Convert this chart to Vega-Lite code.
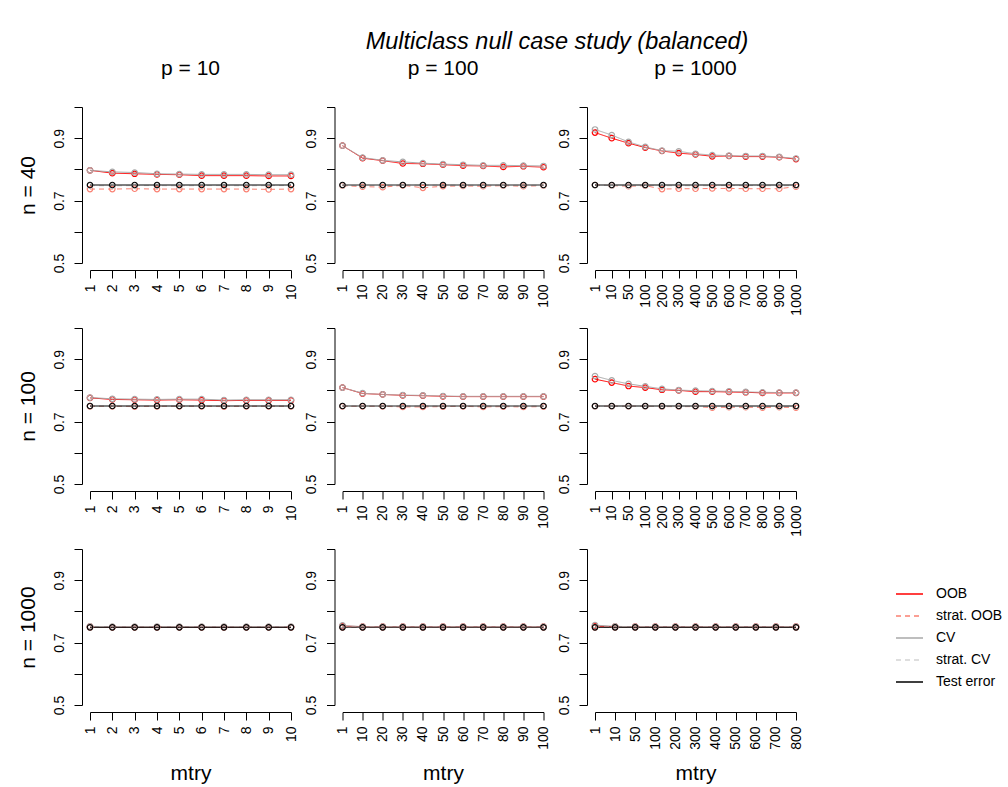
{
"$schema": "https://vega.github.io/schema/vega-lite/v6.json",
"padding": {"left": 17, "top": 30, "right": 5, "bottom": 5},
"title": {"text": "Multiclass null case study (balanced)", "fontSize": 23.5, "fontStyle": "italic", "fontWeight": "normal", "anchor": "middle", "frame": "group", "dx": 467, "offset": 4},
"data": {"values": [
{"n":40,"p":10,"m":1,"s":"OOB","v":0.797},{"n":40,"p":10,"m":2,"s":"OOB","v":0.788},{"n":40,"p":10,"m":3,"s":"OOB","v":0.786},{"n":40,"p":10,"m":4,"s":"OOB","v":0.784},{"n":40,"p":10,"m":5,"s":"OOB","v":0.783},{"n":40,"p":10,"m":6,"s":"OOB","v":0.780},{"n":40,"p":10,"m":7,"s":"OOB","v":0.780},{"n":40,"p":10,"m":8,"s":"OOB","v":0.780},{"n":40,"p":10,"m":9,"s":"OOB","v":0.779},{"n":40,"p":10,"m":10,"s":"OOB","v":0.779},
{"n":40,"p":10,"m":1,"s":"CV","v":0.797},{"n":40,"p":10,"m":2,"s":"CV","v":0.792},{"n":40,"p":10,"m":3,"s":"CV","v":0.790},{"n":40,"p":10,"m":4,"s":"CV","v":0.786},{"n":40,"p":10,"m":5,"s":"CV","v":0.785},{"n":40,"p":10,"m":6,"s":"CV","v":0.784},{"n":40,"p":10,"m":7,"s":"CV","v":0.784},{"n":40,"p":10,"m":8,"s":"CV","v":0.784},{"n":40,"p":10,"m":9,"s":"CV","v":0.783},{"n":40,"p":10,"m":10,"s":"CV","v":0.783},
{"n":40,"p":10,"m":1,"s":"strat. OOB","v":0.737},{"n":40,"p":10,"m":2,"s":"strat. OOB","v":0.737},{"n":40,"p":10,"m":3,"s":"strat. OOB","v":0.738},{"n":40,"p":10,"m":4,"s":"strat. OOB","v":0.737},{"n":40,"p":10,"m":5,"s":"strat. OOB","v":0.737},{"n":40,"p":10,"m":6,"s":"strat. OOB","v":0.737},{"n":40,"p":10,"m":7,"s":"strat. OOB","v":0.737},{"n":40,"p":10,"m":8,"s":"strat. OOB","v":0.737},{"n":40,"p":10,"m":9,"s":"strat. OOB","v":0.736},{"n":40,"p":10,"m":10,"s":"strat. OOB","v":0.737},
{"n":40,"p":10,"m":1,"s":"strat. CV","v":0.748},{"n":40,"p":10,"m":2,"s":"strat. CV","v":0.747},{"n":40,"p":10,"m":3,"s":"strat. CV","v":0.748},{"n":40,"p":10,"m":4,"s":"strat. CV","v":0.748},{"n":40,"p":10,"m":5,"s":"strat. CV","v":0.747},{"n":40,"p":10,"m":6,"s":"strat. CV","v":0.748},{"n":40,"p":10,"m":7,"s":"strat. CV","v":0.748},{"n":40,"p":10,"m":8,"s":"strat. CV","v":0.747},{"n":40,"p":10,"m":9,"s":"strat. CV","v":0.748},{"n":40,"p":10,"m":10,"s":"strat. CV","v":0.748},
{"n":40,"p":10,"m":1,"s":"Test error","v":0.750},{"n":40,"p":10,"m":2,"s":"Test error","v":0.750},{"n":40,"p":10,"m":3,"s":"Test error","v":0.750},{"n":40,"p":10,"m":4,"s":"Test error","v":0.750},{"n":40,"p":10,"m":5,"s":"Test error","v":0.750},{"n":40,"p":10,"m":6,"s":"Test error","v":0.750},{"n":40,"p":10,"m":7,"s":"Test error","v":0.750},{"n":40,"p":10,"m":8,"s":"Test error","v":0.750},{"n":40,"p":10,"m":9,"s":"Test error","v":0.750},{"n":40,"p":10,"m":10,"s":"Test error","v":0.750},

{"n":40,"p":100,"m":1,"s":"OOB","v":0.876},{"n":40,"p":100,"m":10,"s":"OOB","v":0.836},{"n":40,"p":100,"m":20,"s":"OOB","v":0.828},{"n":40,"p":100,"m":30,"s":"OOB","v":0.819},{"n":40,"p":100,"m":40,"s":"OOB","v":0.818},{"n":40,"p":100,"m":50,"s":"OOB","v":0.815},{"n":40,"p":100,"m":60,"s":"OOB","v":0.812},{"n":40,"p":100,"m":70,"s":"OOB","v":0.811},{"n":40,"p":100,"m":80,"s":"OOB","v":0.808},{"n":40,"p":100,"m":90,"s":"OOB","v":0.810},{"n":40,"p":100,"m":100,"s":"OOB","v":0.807},
{"n":40,"p":100,"m":1,"s":"CV","v":0.876},{"n":40,"p":100,"m":10,"s":"CV","v":0.838},{"n":40,"p":100,"m":20,"s":"CV","v":0.829},{"n":40,"p":100,"m":30,"s":"CV","v":0.824},{"n":40,"p":100,"m":40,"s":"CV","v":0.820},{"n":40,"p":100,"m":50,"s":"CV","v":0.817},{"n":40,"p":100,"m":60,"s":"CV","v":0.815},{"n":40,"p":100,"m":70,"s":"CV","v":0.813},{"n":40,"p":100,"m":80,"s":"CV","v":0.813},{"n":40,"p":100,"m":90,"s":"CV","v":0.812},{"n":40,"p":100,"m":100,"s":"CV","v":0.811},
{"n":40,"p":100,"m":1,"s":"strat. OOB","v":0.748},{"n":40,"p":100,"m":10,"s":"strat. OOB","v":0.745},{"n":40,"p":100,"m":20,"s":"strat. OOB","v":0.743},{"n":40,"p":100,"m":30,"s":"strat. OOB","v":0.749},{"n":40,"p":100,"m":40,"s":"strat. OOB","v":0.741},{"n":40,"p":100,"m":50,"s":"strat. OOB","v":0.746},{"n":40,"p":100,"m":60,"s":"strat. OOB","v":0.747},{"n":40,"p":100,"m":70,"s":"strat. OOB","v":0.746},{"n":40,"p":100,"m":80,"s":"strat. OOB","v":0.748},{"n":40,"p":100,"m":90,"s":"strat. OOB","v":0.746},{"n":40,"p":100,"m":100,"s":"strat. OOB","v":0.748},
{"n":40,"p":100,"m":1,"s":"strat. CV","v":0.749},{"n":40,"p":100,"m":10,"s":"strat. CV","v":0.748},{"n":40,"p":100,"m":20,"s":"strat. CV","v":0.748},{"n":40,"p":100,"m":30,"s":"strat. CV","v":0.750},{"n":40,"p":100,"m":40,"s":"strat. CV","v":0.749},{"n":40,"p":100,"m":50,"s":"strat. CV","v":0.750},{"n":40,"p":100,"m":60,"s":"strat. CV","v":0.749},{"n":40,"p":100,"m":70,"s":"strat. CV","v":0.749},{"n":40,"p":100,"m":80,"s":"strat. CV","v":0.749},{"n":40,"p":100,"m":90,"s":"strat. CV","v":0.749},{"n":40,"p":100,"m":100,"s":"strat. CV","v":0.749},
{"n":40,"p":100,"m":1,"s":"Test error","v":0.750},{"n":40,"p":100,"m":10,"s":"Test error","v":0.750},{"n":40,"p":100,"m":20,"s":"Test error","v":0.750},{"n":40,"p":100,"m":30,"s":"Test error","v":0.750},{"n":40,"p":100,"m":40,"s":"Test error","v":0.750},{"n":40,"p":100,"m":50,"s":"Test error","v":0.750},{"n":40,"p":100,"m":60,"s":"Test error","v":0.750},{"n":40,"p":100,"m":70,"s":"Test error","v":0.750},{"n":40,"p":100,"m":80,"s":"Test error","v":0.750},{"n":40,"p":100,"m":90,"s":"Test error","v":0.750},{"n":40,"p":100,"m":100,"s":"Test error","v":0.750},

{"n":40,"p":1000,"m":1,"s":"OOB","v":0.918},{"n":40,"p":1000,"m":10,"s":"OOB","v":0.900},{"n":40,"p":1000,"m":50,"s":"OOB","v":0.884},{"n":40,"p":1000,"m":100,"s":"OOB","v":0.870},{"n":40,"p":1000,"m":200,"s":"OOB","v":0.859},{"n":40,"p":1000,"m":300,"s":"OOB","v":0.852},{"n":40,"p":1000,"m":400,"s":"OOB","v":0.848},{"n":40,"p":1000,"m":500,"s":"OOB","v":0.842},{"n":40,"p":1000,"m":600,"s":"OOB","v":0.843},{"n":40,"p":1000,"m":700,"s":"OOB","v":0.841},{"n":40,"p":1000,"m":800,"s":"OOB","v":0.841},{"n":40,"p":1000,"m":900,"s":"OOB","v":0.839},{"n":40,"p":1000,"m":1000,"s":"OOB","v":0.833},
{"n":40,"p":1000,"m":1,"s":"CV","v":0.928},{"n":40,"p":1000,"m":10,"s":"CV","v":0.910},{"n":40,"p":1000,"m":50,"s":"CV","v":0.888},{"n":40,"p":1000,"m":100,"s":"CV","v":0.872},{"n":40,"p":1000,"m":200,"s":"CV","v":0.860},{"n":40,"p":1000,"m":300,"s":"CV","v":0.858},{"n":40,"p":1000,"m":400,"s":"CV","v":0.850},{"n":40,"p":1000,"m":500,"s":"CV","v":0.846},{"n":40,"p":1000,"m":600,"s":"CV","v":0.844},{"n":40,"p":1000,"m":700,"s":"CV","v":0.843},{"n":40,"p":1000,"m":800,"s":"CV","v":0.843},{"n":40,"p":1000,"m":900,"s":"CV","v":0.840},{"n":40,"p":1000,"m":1000,"s":"CV","v":0.835},
{"n":40,"p":1000,"m":1,"s":"strat. OOB","v":0.750},{"n":40,"p":1000,"m":10,"s":"strat. OOB","v":0.748},{"n":40,"p":1000,"m":50,"s":"strat. OOB","v":0.746},{"n":40,"p":1000,"m":100,"s":"strat. OOB","v":0.748},{"n":40,"p":1000,"m":200,"s":"strat. OOB","v":0.737},{"n":40,"p":1000,"m":300,"s":"strat. OOB","v":0.738},{"n":40,"p":1000,"m":400,"s":"strat. OOB","v":0.738},{"n":40,"p":1000,"m":500,"s":"strat. OOB","v":0.739},{"n":40,"p":1000,"m":600,"s":"strat. OOB","v":0.739},{"n":40,"p":1000,"m":700,"s":"strat. OOB","v":0.738},{"n":40,"p":1000,"m":800,"s":"strat. OOB","v":0.738},{"n":40,"p":1000,"m":900,"s":"strat. OOB","v":0.738},{"n":40,"p":1000,"m":1000,"s":"strat. OOB","v":0.745},
{"n":40,"p":1000,"m":1,"s":"strat. CV","v":0.749},{"n":40,"p":1000,"m":10,"s":"strat. CV","v":0.748},{"n":40,"p":1000,"m":50,"s":"strat. CV","v":0.748},{"n":40,"p":1000,"m":100,"s":"strat. CV","v":0.749},{"n":40,"p":1000,"m":200,"s":"strat. CV","v":0.747},{"n":40,"p":1000,"m":300,"s":"strat. CV","v":0.748},{"n":40,"p":1000,"m":400,"s":"strat. CV","v":0.747},{"n":40,"p":1000,"m":500,"s":"strat. CV","v":0.748},{"n":40,"p":1000,"m":600,"s":"strat. CV","v":0.748},{"n":40,"p":1000,"m":700,"s":"strat. CV","v":0.748},{"n":40,"p":1000,"m":800,"s":"strat. CV","v":0.748},{"n":40,"p":1000,"m":900,"s":"strat. CV","v":0.747},{"n":40,"p":1000,"m":1000,"s":"strat. CV","v":0.748},
{"n":40,"p":1000,"m":1,"s":"Test error","v":0.750},{"n":40,"p":1000,"m":10,"s":"Test error","v":0.750},{"n":40,"p":1000,"m":50,"s":"Test error","v":0.750},{"n":40,"p":1000,"m":100,"s":"Test error","v":0.750},{"n":40,"p":1000,"m":200,"s":"Test error","v":0.750},{"n":40,"p":1000,"m":300,"s":"Test error","v":0.750},{"n":40,"p":1000,"m":400,"s":"Test error","v":0.750},{"n":40,"p":1000,"m":500,"s":"Test error","v":0.750},{"n":40,"p":1000,"m":600,"s":"Test error","v":0.750},{"n":40,"p":1000,"m":700,"s":"Test error","v":0.750},{"n":40,"p":1000,"m":800,"s":"Test error","v":0.750},{"n":40,"p":1000,"m":900,"s":"Test error","v":0.750},{"n":40,"p":1000,"m":1000,"s":"Test error","v":0.750},

{"n":100,"p":10,"m":1,"s":"OOB","v":0.776},{"n":100,"p":10,"m":2,"s":"OOB","v":0.771},{"n":100,"p":10,"m":3,"s":"OOB","v":0.770},{"n":100,"p":10,"m":4,"s":"OOB","v":0.769},{"n":100,"p":10,"m":5,"s":"OOB","v":0.770},{"n":100,"p":10,"m":6,"s":"OOB","v":0.769},{"n":100,"p":10,"m":7,"s":"OOB","v":0.767},{"n":100,"p":10,"m":8,"s":"OOB","v":0.768},{"n":100,"p":10,"m":9,"s":"OOB","v":0.768},{"n":100,"p":10,"m":10,"s":"OOB","v":0.768},
{"n":100,"p":10,"m":1,"s":"CV","v":0.777},{"n":100,"p":10,"m":2,"s":"CV","v":0.773},{"n":100,"p":10,"m":3,"s":"CV","v":0.772},{"n":100,"p":10,"m":4,"s":"CV","v":0.771},{"n":100,"p":10,"m":5,"s":"CV","v":0.772},{"n":100,"p":10,"m":6,"s":"CV","v":0.772},{"n":100,"p":10,"m":7,"s":"CV","v":0.769},{"n":100,"p":10,"m":8,"s":"CV","v":0.770},{"n":100,"p":10,"m":9,"s":"CV","v":0.770},{"n":100,"p":10,"m":10,"s":"CV","v":0.770},
{"n":100,"p":10,"m":1,"s":"strat. OOB","v":0.749},{"n":100,"p":10,"m":2,"s":"strat. OOB","v":0.749},{"n":100,"p":10,"m":3,"s":"strat. OOB","v":0.748},{"n":100,"p":10,"m":4,"s":"strat. OOB","v":0.749},{"n":100,"p":10,"m":5,"s":"strat. OOB","v":0.749},{"n":100,"p":10,"m":6,"s":"strat. OOB","v":0.749},{"n":100,"p":10,"m":7,"s":"strat. OOB","v":0.748},{"n":100,"p":10,"m":8,"s":"strat. OOB","v":0.749},{"n":100,"p":10,"m":9,"s":"strat. OOB","v":0.749},{"n":100,"p":10,"m":10,"s":"strat. OOB","v":0.749},
{"n":100,"p":10,"m":1,"s":"strat. CV","v":0.750},{"n":100,"p":10,"m":2,"s":"strat. CV","v":0.750},{"n":100,"p":10,"m":3,"s":"strat. CV","v":0.750},{"n":100,"p":10,"m":4,"s":"strat. CV","v":0.750},{"n":100,"p":10,"m":5,"s":"strat. CV","v":0.750},{"n":100,"p":10,"m":6,"s":"strat. CV","v":0.750},{"n":100,"p":10,"m":7,"s":"strat. CV","v":0.750},{"n":100,"p":10,"m":8,"s":"strat. CV","v":0.750},{"n":100,"p":10,"m":9,"s":"strat. CV","v":0.750},{"n":100,"p":10,"m":10,"s":"strat. CV","v":0.750},
{"n":100,"p":10,"m":1,"s":"Test error","v":0.750},{"n":100,"p":10,"m":2,"s":"Test error","v":0.750},{"n":100,"p":10,"m":3,"s":"Test error","v":0.750},{"n":100,"p":10,"m":4,"s":"Test error","v":0.750},{"n":100,"p":10,"m":5,"s":"Test error","v":0.750},{"n":100,"p":10,"m":6,"s":"Test error","v":0.750},{"n":100,"p":10,"m":7,"s":"Test error","v":0.750},{"n":100,"p":10,"m":8,"s":"Test error","v":0.750},{"n":100,"p":10,"m":9,"s":"Test error","v":0.750},{"n":100,"p":10,"m":10,"s":"Test error","v":0.750},

{"n":100,"p":100,"m":1,"s":"OOB","v":0.809},{"n":100,"p":100,"m":10,"s":"OOB","v":0.790},{"n":100,"p":100,"m":20,"s":"OOB","v":0.787},{"n":100,"p":100,"m":30,"s":"OOB","v":0.784},{"n":100,"p":100,"m":40,"s":"OOB","v":0.783},{"n":100,"p":100,"m":50,"s":"OOB","v":0.781},{"n":100,"p":100,"m":60,"s":"OOB","v":0.780},{"n":100,"p":100,"m":70,"s":"OOB","v":0.780},{"n":100,"p":100,"m":80,"s":"OOB","v":0.780},{"n":100,"p":100,"m":90,"s":"OOB","v":0.780},{"n":100,"p":100,"m":100,"s":"OOB","v":0.780},
{"n":100,"p":100,"m":1,"s":"CV","v":0.809},{"n":100,"p":100,"m":10,"s":"CV","v":0.791},{"n":100,"p":100,"m":20,"s":"CV","v":0.787},{"n":100,"p":100,"m":30,"s":"CV","v":0.785},{"n":100,"p":100,"m":40,"s":"CV","v":0.784},{"n":100,"p":100,"m":50,"s":"CV","v":0.782},{"n":100,"p":100,"m":60,"s":"CV","v":0.781},{"n":100,"p":100,"m":70,"s":"CV","v":0.781},{"n":100,"p":100,"m":80,"s":"CV","v":0.781},{"n":100,"p":100,"m":90,"s":"CV","v":0.781},{"n":100,"p":100,"m":100,"s":"CV","v":0.781},
{"n":100,"p":100,"m":1,"s":"strat. OOB","v":0.749},{"n":100,"p":100,"m":10,"s":"strat. OOB","v":0.749},{"n":100,"p":100,"m":20,"s":"strat. OOB","v":0.749},{"n":100,"p":100,"m":30,"s":"strat. OOB","v":0.747},{"n":100,"p":100,"m":40,"s":"strat. OOB","v":0.747},{"n":100,"p":100,"m":50,"s":"strat. OOB","v":0.748},{"n":100,"p":100,"m":60,"s":"strat. OOB","v":0.749},{"n":100,"p":100,"m":70,"s":"strat. OOB","v":0.747},{"n":100,"p":100,"m":80,"s":"strat. OOB","v":0.748},{"n":100,"p":100,"m":90,"s":"strat. OOB","v":0.747},{"n":100,"p":100,"m":100,"s":"strat. OOB","v":0.748},
{"n":100,"p":100,"m":1,"s":"strat. CV","v":0.750},{"n":100,"p":100,"m":10,"s":"strat. CV","v":0.750},{"n":100,"p":100,"m":20,"s":"strat. CV","v":0.750},{"n":100,"p":100,"m":30,"s":"strat. CV","v":0.750},{"n":100,"p":100,"m":40,"s":"strat. CV","v":0.750},{"n":100,"p":100,"m":50,"s":"strat. CV","v":0.750},{"n":100,"p":100,"m":60,"s":"strat. CV","v":0.750},{"n":100,"p":100,"m":70,"s":"strat. CV","v":0.750},{"n":100,"p":100,"m":80,"s":"strat. CV","v":0.750},{"n":100,"p":100,"m":90,"s":"strat. CV","v":0.750},{"n":100,"p":100,"m":100,"s":"strat. CV","v":0.750},
{"n":100,"p":100,"m":1,"s":"Test error","v":0.750},{"n":100,"p":100,"m":10,"s":"Test error","v":0.750},{"n":100,"p":100,"m":20,"s":"Test error","v":0.750},{"n":100,"p":100,"m":30,"s":"Test error","v":0.750},{"n":100,"p":100,"m":40,"s":"Test error","v":0.750},{"n":100,"p":100,"m":50,"s":"Test error","v":0.750},{"n":100,"p":100,"m":60,"s":"Test error","v":0.750},{"n":100,"p":100,"m":70,"s":"Test error","v":0.750},{"n":100,"p":100,"m":80,"s":"Test error","v":0.750},{"n":100,"p":100,"m":90,"s":"Test error","v":0.750},{"n":100,"p":100,"m":100,"s":"Test error","v":0.750},

{"n":100,"p":1000,"m":1,"s":"OOB","v":0.836},{"n":100,"p":1000,"m":10,"s":"OOB","v":0.825},{"n":100,"p":1000,"m":50,"s":"OOB","v":0.814},{"n":100,"p":1000,"m":100,"s":"OOB","v":0.809},{"n":100,"p":1000,"m":200,"s":"OOB","v":0.802},{"n":100,"p":1000,"m":300,"s":"OOB","v":0.800},{"n":100,"p":1000,"m":400,"s":"OOB","v":0.796},{"n":100,"p":1000,"m":500,"s":"OOB","v":0.796},{"n":100,"p":1000,"m":600,"s":"OOB","v":0.795},{"n":100,"p":1000,"m":700,"s":"OOB","v":0.794},{"n":100,"p":1000,"m":800,"s":"OOB","v":0.792},{"n":100,"p":1000,"m":900,"s":"OOB","v":0.792},{"n":100,"p":1000,"m":1000,"s":"OOB","v":0.792},
{"n":100,"p":1000,"m":1,"s":"CV","v":0.846},{"n":100,"p":1000,"m":10,"s":"CV","v":0.832},{"n":100,"p":1000,"m":50,"s":"CV","v":0.821},{"n":100,"p":1000,"m":100,"s":"CV","v":0.813},{"n":100,"p":1000,"m":200,"s":"CV","v":0.805},{"n":100,"p":1000,"m":300,"s":"CV","v":0.801},{"n":100,"p":1000,"m":400,"s":"CV","v":0.799},{"n":100,"p":1000,"m":500,"s":"CV","v":0.798},{"n":100,"p":1000,"m":600,"s":"CV","v":0.797},{"n":100,"p":1000,"m":700,"s":"CV","v":0.795},{"n":100,"p":1000,"m":800,"s":"CV","v":0.794},{"n":100,"p":1000,"m":900,"s":"CV","v":0.793},{"n":100,"p":1000,"m":1000,"s":"CV","v":0.793},
{"n":100,"p":1000,"m":1,"s":"strat. OOB","v":0.749},{"n":100,"p":1000,"m":10,"s":"strat. OOB","v":0.749},{"n":100,"p":1000,"m":50,"s":"strat. OOB","v":0.749},{"n":100,"p":1000,"m":100,"s":"strat. OOB","v":0.749},{"n":100,"p":1000,"m":200,"s":"strat. OOB","v":0.748},{"n":100,"p":1000,"m":300,"s":"strat. OOB","v":0.748},{"n":100,"p":1000,"m":400,"s":"strat. OOB","v":0.748},{"n":100,"p":1000,"m":500,"s":"strat. OOB","v":0.745},{"n":100,"p":1000,"m":600,"s":"strat. OOB","v":0.746},{"n":100,"p":1000,"m":700,"s":"strat. OOB","v":0.746},{"n":100,"p":1000,"m":800,"s":"strat. OOB","v":0.745},{"n":100,"p":1000,"m":900,"s":"strat. OOB","v":0.746},{"n":100,"p":1000,"m":1000,"s":"strat. OOB","v":0.745},
{"n":100,"p":1000,"m":1,"s":"strat. CV","v":0.749},{"n":100,"p":1000,"m":10,"s":"strat. CV","v":0.749},{"n":100,"p":1000,"m":50,"s":"strat. CV","v":0.749},{"n":100,"p":1000,"m":100,"s":"strat. CV","v":0.749},{"n":100,"p":1000,"m":200,"s":"strat. CV","v":0.749},{"n":100,"p":1000,"m":300,"s":"strat. CV","v":0.749},{"n":100,"p":1000,"m":400,"s":"strat. CV","v":0.749},{"n":100,"p":1000,"m":500,"s":"strat. CV","v":0.748},{"n":100,"p":1000,"m":600,"s":"strat. CV","v":0.748},{"n":100,"p":1000,"m":700,"s":"strat. CV","v":0.748},{"n":100,"p":1000,"m":800,"s":"strat. CV","v":0.748},{"n":100,"p":1000,"m":900,"s":"strat. CV","v":0.748},{"n":100,"p":1000,"m":1000,"s":"strat. CV","v":0.748},
{"n":100,"p":1000,"m":1,"s":"Test error","v":0.750},{"n":100,"p":1000,"m":10,"s":"Test error","v":0.750},{"n":100,"p":1000,"m":50,"s":"Test error","v":0.750},{"n":100,"p":1000,"m":100,"s":"Test error","v":0.750},{"n":100,"p":1000,"m":200,"s":"Test error","v":0.750},{"n":100,"p":1000,"m":300,"s":"Test error","v":0.750},{"n":100,"p":1000,"m":400,"s":"Test error","v":0.750},{"n":100,"p":1000,"m":500,"s":"Test error","v":0.750},{"n":100,"p":1000,"m":600,"s":"Test error","v":0.750},{"n":100,"p":1000,"m":700,"s":"Test error","v":0.750},{"n":100,"p":1000,"m":800,"s":"Test error","v":0.750},{"n":100,"p":1000,"m":900,"s":"Test error","v":0.750},{"n":100,"p":1000,"m":1000,"s":"Test error","v":0.750},

{"n":1000,"p":10,"m":1,"s":"OOB","v":0.751},{"n":1000,"p":10,"m":2,"s":"OOB","v":0.750},{"n":1000,"p":10,"m":3,"s":"OOB","v":0.750},{"n":1000,"p":10,"m":4,"s":"OOB","v":0.750},{"n":1000,"p":10,"m":5,"s":"OOB","v":0.750},{"n":1000,"p":10,"m":6,"s":"OOB","v":0.750},{"n":1000,"p":10,"m":7,"s":"OOB","v":0.750},{"n":1000,"p":10,"m":8,"s":"OOB","v":0.750},{"n":1000,"p":10,"m":9,"s":"OOB","v":0.750},{"n":1000,"p":10,"m":10,"s":"OOB","v":0.750},
{"n":1000,"p":10,"m":1,"s":"CV","v":0.752},{"n":1000,"p":10,"m":2,"s":"CV","v":0.751},{"n":1000,"p":10,"m":3,"s":"CV","v":0.751},{"n":1000,"p":10,"m":4,"s":"CV","v":0.751},{"n":1000,"p":10,"m":5,"s":"CV","v":0.751},{"n":1000,"p":10,"m":6,"s":"CV","v":0.751},{"n":1000,"p":10,"m":7,"s":"CV","v":0.751},{"n":1000,"p":10,"m":8,"s":"CV","v":0.751},{"n":1000,"p":10,"m":9,"s":"CV","v":0.751},{"n":1000,"p":10,"m":10,"s":"CV","v":0.751},
{"n":1000,"p":10,"m":1,"s":"strat. OOB","v":0.749},{"n":1000,"p":10,"m":2,"s":"strat. OOB","v":0.749},{"n":1000,"p":10,"m":3,"s":"strat. OOB","v":0.749},{"n":1000,"p":10,"m":4,"s":"strat. OOB","v":0.749},{"n":1000,"p":10,"m":5,"s":"strat. OOB","v":0.749},{"n":1000,"p":10,"m":6,"s":"strat. OOB","v":0.749},{"n":1000,"p":10,"m":7,"s":"strat. OOB","v":0.749},{"n":1000,"p":10,"m":8,"s":"strat. OOB","v":0.749},{"n":1000,"p":10,"m":9,"s":"strat. OOB","v":0.749},{"n":1000,"p":10,"m":10,"s":"strat. OOB","v":0.749},
{"n":1000,"p":10,"m":1,"s":"strat. CV","v":0.750},{"n":1000,"p":10,"m":2,"s":"strat. CV","v":0.750},{"n":1000,"p":10,"m":3,"s":"strat. CV","v":0.750},{"n":1000,"p":10,"m":4,"s":"strat. CV","v":0.750},{"n":1000,"p":10,"m":5,"s":"strat. CV","v":0.750},{"n":1000,"p":10,"m":6,"s":"strat. CV","v":0.750},{"n":1000,"p":10,"m":7,"s":"strat. CV","v":0.750},{"n":1000,"p":10,"m":8,"s":"strat. CV","v":0.750},{"n":1000,"p":10,"m":9,"s":"strat. CV","v":0.750},{"n":1000,"p":10,"m":10,"s":"strat. CV","v":0.750},
{"n":1000,"p":10,"m":1,"s":"Test error","v":0.749},{"n":1000,"p":10,"m":2,"s":"Test error","v":0.749},{"n":1000,"p":10,"m":3,"s":"Test error","v":0.749},{"n":1000,"p":10,"m":4,"s":"Test error","v":0.749},{"n":1000,"p":10,"m":5,"s":"Test error","v":0.749},{"n":1000,"p":10,"m":6,"s":"Test error","v":0.749},{"n":1000,"p":10,"m":7,"s":"Test error","v":0.749},{"n":1000,"p":10,"m":8,"s":"Test error","v":0.749},{"n":1000,"p":10,"m":9,"s":"Test error","v":0.749},{"n":1000,"p":10,"m":10,"s":"Test error","v":0.749},

{"n":1000,"p":100,"m":1,"s":"OOB","v":0.753},{"n":1000,"p":100,"m":10,"s":"OOB","v":0.751},{"n":1000,"p":100,"m":20,"s":"OOB","v":0.751},{"n":1000,"p":100,"m":30,"s":"OOB","v":0.751},{"n":1000,"p":100,"m":40,"s":"OOB","v":0.751},{"n":1000,"p":100,"m":50,"s":"OOB","v":0.751},{"n":1000,"p":100,"m":60,"s":"OOB","v":0.751},{"n":1000,"p":100,"m":70,"s":"OOB","v":0.751},{"n":1000,"p":100,"m":80,"s":"OOB","v":0.751},{"n":1000,"p":100,"m":90,"s":"OOB","v":0.751},{"n":1000,"p":100,"m":100,"s":"OOB","v":0.751},
{"n":1000,"p":100,"m":1,"s":"CV","v":0.755},{"n":1000,"p":100,"m":10,"s":"CV","v":0.751},{"n":1000,"p":100,"m":20,"s":"CV","v":0.751},{"n":1000,"p":100,"m":30,"s":"CV","v":0.751},{"n":1000,"p":100,"m":40,"s":"CV","v":0.751},{"n":1000,"p":100,"m":50,"s":"CV","v":0.751},{"n":1000,"p":100,"m":60,"s":"CV","v":0.751},{"n":1000,"p":100,"m":70,"s":"CV","v":0.751},{"n":1000,"p":100,"m":80,"s":"CV","v":0.751},{"n":1000,"p":100,"m":90,"s":"CV","v":0.751},{"n":1000,"p":100,"m":100,"s":"CV","v":0.751},
{"n":1000,"p":100,"m":1,"s":"strat. OOB","v":0.749},{"n":1000,"p":100,"m":10,"s":"strat. OOB","v":0.749},{"n":1000,"p":100,"m":20,"s":"strat. OOB","v":0.749},{"n":1000,"p":100,"m":30,"s":"strat. OOB","v":0.749},{"n":1000,"p":100,"m":40,"s":"strat. OOB","v":0.749},{"n":1000,"p":100,"m":50,"s":"strat. OOB","v":0.749},{"n":1000,"p":100,"m":60,"s":"strat. OOB","v":0.749},{"n":1000,"p":100,"m":70,"s":"strat. OOB","v":0.749},{"n":1000,"p":100,"m":80,"s":"strat. OOB","v":0.749},{"n":1000,"p":100,"m":90,"s":"strat. OOB","v":0.749},{"n":1000,"p":100,"m":100,"s":"strat. OOB","v":0.749},
{"n":1000,"p":100,"m":1,"s":"strat. CV","v":0.750},{"n":1000,"p":100,"m":10,"s":"strat. CV","v":0.750},{"n":1000,"p":100,"m":20,"s":"strat. CV","v":0.750},{"n":1000,"p":100,"m":30,"s":"strat. CV","v":0.750},{"n":1000,"p":100,"m":40,"s":"strat. CV","v":0.750},{"n":1000,"p":100,"m":50,"s":"strat. CV","v":0.750},{"n":1000,"p":100,"m":60,"s":"strat. CV","v":0.750},{"n":1000,"p":100,"m":70,"s":"strat. CV","v":0.750},{"n":1000,"p":100,"m":80,"s":"strat. CV","v":0.750},{"n":1000,"p":100,"m":90,"s":"strat. CV","v":0.750},{"n":1000,"p":100,"m":100,"s":"strat. CV","v":0.750},
{"n":1000,"p":100,"m":1,"s":"Test error","v":0.749},{"n":1000,"p":100,"m":10,"s":"Test error","v":0.749},{"n":1000,"p":100,"m":20,"s":"Test error","v":0.749},{"n":1000,"p":100,"m":30,"s":"Test error","v":0.749},{"n":1000,"p":100,"m":40,"s":"Test error","v":0.749},{"n":1000,"p":100,"m":50,"s":"Test error","v":0.749},{"n":1000,"p":100,"m":60,"s":"Test error","v":0.749},{"n":1000,"p":100,"m":70,"s":"Test error","v":0.749},{"n":1000,"p":100,"m":80,"s":"Test error","v":0.749},{"n":1000,"p":100,"m":90,"s":"Test error","v":0.749},{"n":1000,"p":100,"m":100,"s":"Test error","v":0.749},

{"n":1000,"p":1000,"m":1,"s":"OOB","v":0.753},{"n":1000,"p":1000,"m":10,"s":"OOB","v":0.751},{"n":1000,"p":1000,"m":50,"s":"OOB","v":0.751},{"n":1000,"p":1000,"m":100,"s":"OOB","v":0.751},{"n":1000,"p":1000,"m":200,"s":"OOB","v":0.751},{"n":1000,"p":1000,"m":300,"s":"OOB","v":0.751},{"n":1000,"p":1000,"m":400,"s":"OOB","v":0.751},{"n":1000,"p":1000,"m":500,"s":"OOB","v":0.751},{"n":1000,"p":1000,"m":600,"s":"OOB","v":0.751},{"n":1000,"p":1000,"m":700,"s":"OOB","v":0.751},{"n":1000,"p":1000,"m":800,"s":"OOB","v":0.751},
{"n":1000,"p":1000,"m":1,"s":"CV","v":0.756},{"n":1000,"p":1000,"m":10,"s":"CV","v":0.752},{"n":1000,"p":1000,"m":50,"s":"CV","v":0.751},{"n":1000,"p":1000,"m":100,"s":"CV","v":0.751},{"n":1000,"p":1000,"m":200,"s":"CV","v":0.751},{"n":1000,"p":1000,"m":300,"s":"CV","v":0.751},{"n":1000,"p":1000,"m":400,"s":"CV","v":0.751},{"n":1000,"p":1000,"m":500,"s":"CV","v":0.751},{"n":1000,"p":1000,"m":600,"s":"CV","v":0.751},{"n":1000,"p":1000,"m":700,"s":"CV","v":0.751},{"n":1000,"p":1000,"m":800,"s":"CV","v":0.751},
{"n":1000,"p":1000,"m":1,"s":"strat. OOB","v":0.749},{"n":1000,"p":1000,"m":10,"s":"strat. OOB","v":0.749},{"n":1000,"p":1000,"m":50,"s":"strat. OOB","v":0.749},{"n":1000,"p":1000,"m":100,"s":"strat. OOB","v":0.749},{"n":1000,"p":1000,"m":200,"s":"strat. OOB","v":0.749},{"n":1000,"p":1000,"m":300,"s":"strat. OOB","v":0.749},{"n":1000,"p":1000,"m":400,"s":"strat. OOB","v":0.749},{"n":1000,"p":1000,"m":500,"s":"strat. OOB","v":0.749},{"n":1000,"p":1000,"m":600,"s":"strat. OOB","v":0.749},{"n":1000,"p":1000,"m":700,"s":"strat. OOB","v":0.749},{"n":1000,"p":1000,"m":800,"s":"strat. OOB","v":0.749},
{"n":1000,"p":1000,"m":1,"s":"strat. CV","v":0.750},{"n":1000,"p":1000,"m":10,"s":"strat. CV","v":0.750},{"n":1000,"p":1000,"m":50,"s":"strat. CV","v":0.750},{"n":1000,"p":1000,"m":100,"s":"strat. CV","v":0.750},{"n":1000,"p":1000,"m":200,"s":"strat. CV","v":0.750},{"n":1000,"p":1000,"m":300,"s":"strat. CV","v":0.750},{"n":1000,"p":1000,"m":400,"s":"strat. CV","v":0.750},{"n":1000,"p":1000,"m":500,"s":"strat. CV","v":0.750},{"n":1000,"p":1000,"m":600,"s":"strat. CV","v":0.750},{"n":1000,"p":1000,"m":700,"s":"strat. CV","v":0.750},{"n":1000,"p":1000,"m":800,"s":"strat. CV","v":0.750},
{"n":1000,"p":1000,"m":1,"s":"Test error","v":0.749},{"n":1000,"p":1000,"m":10,"s":"Test error","v":0.749},{"n":1000,"p":1000,"m":50,"s":"Test error","v":0.749},{"n":1000,"p":1000,"m":100,"s":"Test error","v":0.749},{"n":1000,"p":1000,"m":200,"s":"Test error","v":0.749},{"n":1000,"p":1000,"m":300,"s":"Test error","v":0.749},{"n":1000,"p":1000,"m":400,"s":"Test error","v":0.749},{"n":1000,"p":1000,"m":500,"s":"Test error","v":0.749},{"n":1000,"p":1000,"m":600,"s":"Test error","v":0.749},{"n":1000,"p":1000,"m":700,"s":"Test error","v":0.749},{"n":1000,"p":1000,"m":800,"s":"Test error","v":0.749}
]},
"columns": 3,
"spacing": {"row": 65, "column": 51.5},
"bounds": "flush",
"resolve": {"scale": {"x": "independent", "y": "independent", "color": "shared", "strokeDash": "shared"}},
"concat": [
{"width": 201, "height": 156, "title": "p = 10",
 "transform": [{"filter": "datum.n == 40 && datum.p == 10"}],
 "encoding": {
  "x": {"field": "m", "type": "ordinal", "scale": {"type": "point", "padding": 0}, "axis": {"title": null}},
  "y": {"field": "v", "type": "quantitative", "scale": {"domain": [0.5, 1.0]}, "axis": {"title": "n = 40", "values": [0.5,0.6,0.7,0.8,0.9,1.0], "format": ".1f", "labelExpr": "indexof([0.5,0.7,0.9], datum.value) >= 0 ? datum.label : ''", "titleX": -54}},
  "color": {"field": "s", "type": "nominal", "title": null, "scale": {"domain": ["OOB","strat. OOB","CV","strat. CV","Test error"], "range": ["#ff0000","#fa8072","#a9a9a9","#d3d3d3","#000000"]}}},
 "layer": [
  {"mark": {"type": "line", "strokeWidth": 1}, "encoding": {"strokeDash": {"field": "s", "type": "nominal", "title": null, "scale": {"domain": ["OOB","strat. OOB","CV","strat. CV","Test error"], "range": [[1,0],[5,4],[1,0],[5,4],[1,0]]}}}},
  {"mark": {"type": "point", "size": 30, "strokeWidth": 1.2, "filled": false, "opacity": 1}}]},
{"width": 201, "height": 156, "title": "p = 100",
 "transform": [{"filter": "datum.n == 40 && datum.p == 100"}],
 "encoding": {
  "x": {"field": "m", "type": "ordinal", "scale": {"type": "point", "padding": 0}, "axis": {"title": null}},
  "y": {"field": "v", "type": "quantitative", "scale": {"domain": [0.5, 1.0]}, "axis": {"title": null, "values": [0.5,0.6,0.7,0.8,0.9,1.0], "format": ".1f", "labelExpr": "indexof([0.5,0.7,0.9], datum.value) >= 0 ? datum.label : ''"}},
  "color": {"field": "s", "type": "nominal", "title": null, "scale": {"domain": ["OOB","strat. OOB","CV","strat. CV","Test error"], "range": ["#ff0000","#fa8072","#a9a9a9","#d3d3d3","#000000"]}}},
 "layer": [
  {"mark": {"type": "line", "strokeWidth": 1}, "encoding": {"strokeDash": {"field": "s", "type": "nominal", "title": null, "scale": {"domain": ["OOB","strat. OOB","CV","strat. CV","Test error"], "range": [[1,0],[5,4],[1,0],[5,4],[1,0]]}}}},
  {"mark": {"type": "point", "size": 30, "strokeWidth": 1.2, "filled": false, "opacity": 1}}]},
{"width": 201, "height": 156, "title": "p = 1000",
 "transform": [{"filter": "datum.n == 40 && datum.p == 1000"}],
 "encoding": {
  "x": {"field": "m", "type": "ordinal", "scale": {"type": "point", "padding": 0}, "axis": {"title": null}},
  "y": {"field": "v", "type": "quantitative", "scale": {"domain": [0.5, 1.0]}, "axis": {"title": null, "values": [0.5,0.6,0.7,0.8,0.9,1.0], "format": ".1f", "labelExpr": "indexof([0.5,0.7,0.9], datum.value) >= 0 ? datum.label : ''"}},
  "color": {"field": "s", "type": "nominal", "title": null, "scale": {"domain": ["OOB","strat. OOB","CV","strat. CV","Test error"], "range": ["#ff0000","#fa8072","#a9a9a9","#d3d3d3","#000000"]}}},
 "layer": [
  {"mark": {"type": "line", "strokeWidth": 1}, "encoding": {"strokeDash": {"field": "s", "type": "nominal", "title": null, "scale": {"domain": ["OOB","strat. OOB","CV","strat. CV","Test error"], "range": [[1,0],[5,4],[1,0],[5,4],[1,0]]}}}},
  {"mark": {"type": "point", "size": 30, "strokeWidth": 1.2, "filled": false, "opacity": 1}}]},
{"width": 201, "height": 156,
 "transform": [{"filter": "datum.n == 100 && datum.p == 10"}],
 "encoding": {
  "x": {"field": "m", "type": "ordinal", "scale": {"type": "point", "padding": 0}, "axis": {"title": null}},
  "y": {"field": "v", "type": "quantitative", "scale": {"domain": [0.5, 1.0]}, "axis": {"title": "n = 100", "values": [0.5,0.6,0.7,0.8,0.9,1.0], "format": ".1f", "labelExpr": "indexof([0.5,0.7,0.9], datum.value) >= 0 ? datum.label : ''", "titleX": -54}},
  "color": {"field": "s", "type": "nominal", "title": null, "scale": {"domain": ["OOB","strat. OOB","CV","strat. CV","Test error"], "range": ["#ff0000","#fa8072","#a9a9a9","#d3d3d3","#000000"]}}},
 "layer": [
  {"mark": {"type": "line", "strokeWidth": 1}, "encoding": {"strokeDash": {"field": "s", "type": "nominal", "title": null, "scale": {"domain": ["OOB","strat. OOB","CV","strat. CV","Test error"], "range": [[1,0],[5,4],[1,0],[5,4],[1,0]]}}}},
  {"mark": {"type": "point", "size": 30, "strokeWidth": 1.2, "filled": false, "opacity": 1}}]},
{"width": 201, "height": 156,
 "transform": [{"filter": "datum.n == 100 && datum.p == 100"}],
 "encoding": {
  "x": {"field": "m", "type": "ordinal", "scale": {"type": "point", "padding": 0}, "axis": {"title": null}},
  "y": {"field": "v", "type": "quantitative", "scale": {"domain": [0.5, 1.0]}, "axis": {"title": null, "values": [0.5,0.6,0.7,0.8,0.9,1.0], "format": ".1f", "labelExpr": "indexof([0.5,0.7,0.9], datum.value) >= 0 ? datum.label : ''"}},
  "color": {"field": "s", "type": "nominal", "title": null, "scale": {"domain": ["OOB","strat. OOB","CV","strat. CV","Test error"], "range": ["#ff0000","#fa8072","#a9a9a9","#d3d3d3","#000000"]}}},
 "layer": [
  {"mark": {"type": "line", "strokeWidth": 1}, "encoding": {"strokeDash": {"field": "s", "type": "nominal", "title": null, "scale": {"domain": ["OOB","strat. OOB","CV","strat. CV","Test error"], "range": [[1,0],[5,4],[1,0],[5,4],[1,0]]}}}},
  {"mark": {"type": "point", "size": 30, "strokeWidth": 1.2, "filled": false, "opacity": 1}}]},
{"width": 201, "height": 156,
 "transform": [{"filter": "datum.n == 100 && datum.p == 1000"}],
 "encoding": {
  "x": {"field": "m", "type": "ordinal", "scale": {"type": "point", "padding": 0}, "axis": {"title": null}},
  "y": {"field": "v", "type": "quantitative", "scale": {"domain": [0.5, 1.0]}, "axis": {"title": null, "values": [0.5,0.6,0.7,0.8,0.9,1.0], "format": ".1f", "labelExpr": "indexof([0.5,0.7,0.9], datum.value) >= 0 ? datum.label : ''"}},
  "color": {"field": "s", "type": "nominal", "title": null, "scale": {"domain": ["OOB","strat. OOB","CV","strat. CV","Test error"], "range": ["#ff0000","#fa8072","#a9a9a9","#d3d3d3","#000000"]}}},
 "layer": [
  {"mark": {"type": "line", "strokeWidth": 1}, "encoding": {"strokeDash": {"field": "s", "type": "nominal", "title": null, "scale": {"domain": ["OOB","strat. OOB","CV","strat. CV","Test error"], "range": [[1,0],[5,4],[1,0],[5,4],[1,0]]}}}},
  {"mark": {"type": "point", "size": 30, "strokeWidth": 1.2, "filled": false, "opacity": 1}}]},
{"width": 201, "height": 156,
 "transform": [{"filter": "datum.n == 1000 && datum.p == 10"}],
 "encoding": {
  "x": {"field": "m", "type": "ordinal", "scale": {"type": "point", "padding": 0}, "axis": {"title": "mtry", "titleY": 61, "titleBaseline": "middle"}},
  "y": {"field": "v", "type": "quantitative", "scale": {"domain": [0.5, 1.0]}, "axis": {"title": "n = 1000", "values": [0.5,0.6,0.7,0.8,0.9,1.0], "format": ".1f", "labelExpr": "indexof([0.5,0.7,0.9], datum.value) >= 0 ? datum.label : ''", "titleX": -54}},
  "color": {"field": "s", "type": "nominal", "title": null, "scale": {"domain": ["OOB","strat. OOB","CV","strat. CV","Test error"], "range": ["#ff0000","#fa8072","#a9a9a9","#d3d3d3","#000000"]}}},
 "layer": [
  {"mark": {"type": "line", "strokeWidth": 1}, "encoding": {"strokeDash": {"field": "s", "type": "nominal", "title": null, "scale": {"domain": ["OOB","strat. OOB","CV","strat. CV","Test error"], "range": [[1,0],[5,4],[1,0],[5,4],[1,0]]}}}},
  {"mark": {"type": "point", "size": 30, "strokeWidth": 1.2, "filled": false, "opacity": 1}}]},
{"width": 201, "height": 156,
 "transform": [{"filter": "datum.n == 1000 && datum.p == 100"}],
 "encoding": {
  "x": {"field": "m", "type": "ordinal", "scale": {"type": "point", "padding": 0}, "axis": {"title": "mtry", "titleY": 61, "titleBaseline": "middle"}},
  "y": {"field": "v", "type": "quantitative", "scale": {"domain": [0.5, 1.0]}, "axis": {"title": null, "values": [0.5,0.6,0.7,0.8,0.9,1.0], "format": ".1f", "labelExpr": "indexof([0.5,0.7,0.9], datum.value) >= 0 ? datum.label : ''"}},
  "color": {"field": "s", "type": "nominal", "title": null, "scale": {"domain": ["OOB","strat. OOB","CV","strat. CV","Test error"], "range": ["#ff0000","#fa8072","#a9a9a9","#d3d3d3","#000000"]}}},
 "layer": [
  {"mark": {"type": "line", "strokeWidth": 1}, "encoding": {"strokeDash": {"field": "s", "type": "nominal", "title": null, "scale": {"domain": ["OOB","strat. OOB","CV","strat. CV","Test error"], "range": [[1,0],[5,4],[1,0],[5,4],[1,0]]}}}},
  {"mark": {"type": "point", "size": 30, "strokeWidth": 1.2, "filled": false, "opacity": 1}}]},
{"width": 201, "height": 156,
 "transform": [{"filter": "datum.n == 1000 && datum.p == 1000"}],
 "encoding": {
  "x": {"field": "m", "type": "ordinal", "scale": {"type": "point", "padding": 0}, "axis": {"title": "mtry", "titleY": 61, "titleBaseline": "middle"}},
  "y": {"field": "v", "type": "quantitative", "scale": {"domain": [0.5, 1.0]}, "axis": {"title": null, "values": [0.5,0.6,0.7,0.8,0.9,1.0], "format": ".1f", "labelExpr": "indexof([0.5,0.7,0.9], datum.value) >= 0 ? datum.label : ''"}},
  "color": {"field": "s", "type": "nominal", "title": null, "scale": {"domain": ["OOB","strat. OOB","CV","strat. CV","Test error"], "range": ["#ff0000","#fa8072","#a9a9a9","#d3d3d3","#000000"]}}},
 "layer": [
  {"mark": {"type": "line", "strokeWidth": 1}, "encoding": {"strokeDash": {"field": "s", "type": "nominal", "title": null, "scale": {"domain": ["OOB","strat. OOB","CV","strat. CV","Test error"], "range": [[1,0],[5,4],[1,0],[5,4],[1,0]]}}}},
  {"mark": {"type": "point", "size": 30, "strokeWidth": 1.2, "filled": false, "opacity": 1}}]}
],
"config": {
 "font": "Liberation Sans",
 "view": {"stroke": null},
 "axis": {"grid": false, "domainColor": "#000000", "tickColor": "#000000", "labelColor": "#000000", "titleColor": "#000000", "labelFontSize": 14, "titleFontSize": 21, "titleFontWeight": "normal", "labelFont": "Liberation Sans", "titleFont": "Liberation Sans", "tickSize": 8, "labelOverlap": false, "labelFlush": false, "domainWidth": 1, "tickWidth": 1},
 "axisX": {"labelAngle": -90, "offset": 7, "labelPadding": 6},
 "axisY": {"labelAngle": -90, "offset": 8, "labelPadding": 8, "labelAlign": "center", "labelBaseline": "bottom", "titleAngle": -90, "titleBaseline": "middle", "titleAlign": "center"},
 "title": {"fontSize": 21, "fontWeight": "normal", "font": "Liberation Sans", "color": "#000000", "offset": 28},
 "legend": {"orient": "none", "legendX": 805, "legendY": 472.5, "symbolType": "stroke", "symbolSize": 729, "symbolStrokeWidth": 1.5, "labelFontSize": 14, "labelFont": "Liberation Sans", "labelColor": "#000000", "labelOffset": 12, "rowPadding": -9.7, "padding": 0}
}
}
